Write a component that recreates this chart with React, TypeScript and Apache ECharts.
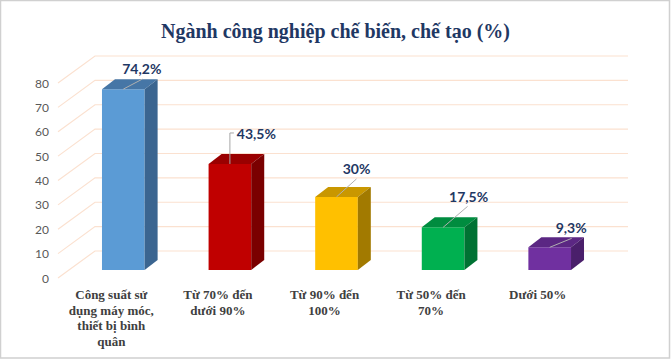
import React, { useEffect, useRef } from "react";
import * as echarts from "echarts";

const categories = [
  "Công suất sử\ndụng máy móc,\nthiết bị bình\nquân",
  "Từ 70% đến\ndưới 90%",
  "Từ 90% đến\n100%",
  "Từ 50% đến\n70%",
  "Dưới 50%",
];
const values = [74.2, 43.5, 30, 17.5, 9.3];
const yTicks = [0, 10, 20, 30, 40, 50, 60, 70, 80];

// styles / layout (not data)
const frontColors = ["#5b9bd5", "#c00000", "#ffc000", "#00b050", "#7030a0"];
const topColors = ["#4676a6", "#9a0000", "#c99700", "#008c3f", "#5b2783"];
const sideColors = ["#3b6590", "#7a0000", "#a27a00", "#007233", "#4a1f6b"];
// label offsets relative to the bar's top-front centre: [labelDx, labelDy, leaderDx, leaderDy, elbow]
const labelOffsets = [
  [18.5, -21, 19, -10, 0],
  [26.5, -30, 0, -31, 1],
  [20, -28, 20, -18, 0],
  [25.5, -31, 24.5, -21, 0],
  [21.5, -19.5, 22, -9, 0],
];

const WALL_DX = 37;
const WALL_DY = -27;
const BAR_FX = 12;
const BAR_FY = -8;
const BAR_DX = 13;
const BAR_DY = -10;

function fmt(v: number) {
  return String(v).replace(".", ",") + "%";
}

export default function App() {
  const ref = useRef<HTMLDivElement>(null);
  useEffect(() => {
    const chart = echarts.init(ref.current!, undefined, { renderer: "svg" });
    chart.setOption({
      animation: false,
      backgroundColor: "#ffffff",
      title: {
        text: "Ngành công nghiệp chế biến, chế tạo (%)",
        left: "center",
        top: 16,
        textStyle: {
          fontFamily: "Liberation Serif",
          fontWeight: "bold",
          fontSize: 20,
          color: "#1f3864",
        },
      },
      graphic: [
        {
          type: "rect",
          shape: { x: 0.5, y: 0.5, width: 669, height: 357.5 },
          style: { fill: "none", stroke: "#d0d0d0", lineWidth: 1.5 },
          silent: true,
        },
      ],
      grid: { left: 58, right: 80, top: 83, bottom: 81 },
      xAxis: {
        type: "category",
        data: categories,
        axisLine: { show: false },
        axisTick: { show: false },
        splitLine: { show: false },
        axisLabel: {
          interval: 0,
          margin: 9,
          fontFamily: "Liberation Serif",
          fontWeight: "bold",
          fontSize: 13,
          lineHeight: 15.5,
          color: "#404040",
        },
      },
      yAxis: {
        type: "value",
        min: 0,
        max: 80,
        interval: 10,
        axisLine: { show: false },
        axisTick: { show: false },
        splitLine: { show: false },
        axisLabel: {
          margin: 9,
          fontFamily: "Lato",
          fontSize: 12,
          color: "#595959",
        },
      },
      series: [
        {
          type: "custom",
          z: 1,
          silent: true,
          data: yTicks.map((t) => [0, t]),
          renderItem: (params: any, api: any) => {
            const cs = params.coordSys;
            const y = api.coord([0, api.value(1)])[1];
            const x0 = cs.x;
            return {
              type: "polyline",
              shape: {
                points: [
                  [x0, y],
                  [x0 + WALL_DX, y + WALL_DY],
                  [x0 + cs.width + WALL_DX, y + WALL_DY],
                ],
              },
              style: { fill: "none", stroke: "#fbe1d0", lineWidth: 1.2 },
            };
          },
        },
        {
          type: "custom",
          z: 2,
          data: values.map((v, i) => [i, v]),
          renderItem: (params: any, api: any) => {
            const i = params.dataIndex;
            const v = api.value(1);
            const base = api.coord([i, 0]);
            const topPt = api.coord([i, v]);
            const hw = api.size([1, 0])[0] * 0.2;
            const cx = base[0] + BAR_FX;
            const B = base[1] + BAR_FY;
            const T = topPt[1] + BAR_FY;
            const L = cx - hw;
            const R = cx + hw;
            const off = labelOffsets[i];
            const children: any[] = [
              {
                type: "rect",
                shape: { x: L, y: T, width: R - L, height: B - T },
                style: { fill: frontColors[i] },
              },
              {
                type: "polygon",
                shape: {
                  points: [
                    [L, T],
                    [R, T],
                    [R + BAR_DX, T + BAR_DY],
                    [L + BAR_DX, T + BAR_DY],
                  ],
                },
                style: { fill: topColors[i] },
              },
              {
                type: "polygon",
                shape: {
                  points: [
                    [R, T],
                    [R + BAR_DX, T + BAR_DY],
                    [R + BAR_DX, B + BAR_DY],
                    [R, B],
                  ],
                },
                style: { fill: sideColors[i] },
              },
            ];
            if (off[4]) {
              children.push({
                type: "polyline",
                shape: {
                  points: [
                    [cx, T],
                    [cx, T + off[3]],
                    [cx + 4, T + off[3]],
                  ],
                },
                style: { fill: "none", stroke: "#a6a6a6", lineWidth: 1 },
              });
            } else {
              children.push({
                type: "line",
                shape: { x1: cx, y1: T, x2: cx + off[2], y2: T + off[3] },
                style: { stroke: "#b0b0b0", lineWidth: 1 },
              });
            }
            children.push({
              type: "text",
              x: cx + off[0],
              y: T + off[1],
              style: {
                text: fmt(v),
                align: "center",
                verticalAlign: "middle",
                fontFamily: "Lato",
                fontWeight: "bold",
                fontSize: 14,
                fill: "#1f3864",
              },
            });
            return { type: "group", children };
          },
        },
      ],
    });
    return () => chart.dispose();
  }, []);
  return (
    <div
      ref={ref}
      style={{ position: "fixed", left: 0, top: 0, width: 671, height: 359 }}
    />
  );
}
